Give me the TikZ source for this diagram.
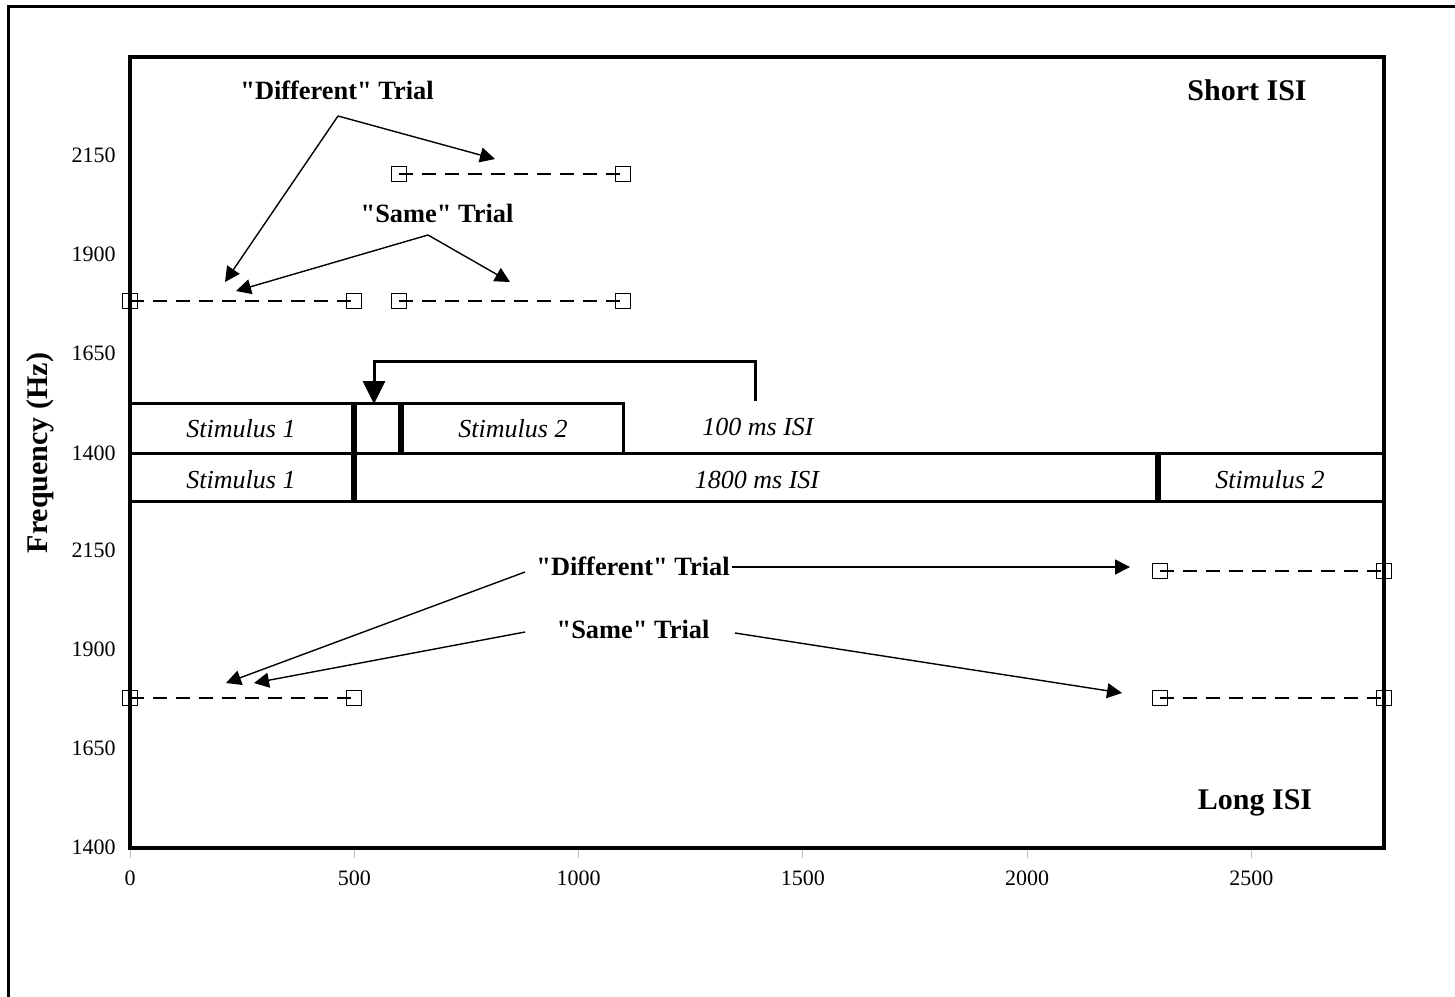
\documentclass[tikz,border=0pt]{standalone}
\usepackage{fontspec}
\setmainfont{Liberation Serif}
\usetikzlibrary{arrows.meta}

\begin{document}
\begin{tikzpicture}[x=0.5pt, y=-0.5pt,
	sq/.style={draw, line width=0.9pt, minimum size=7.5pt, inner sep=0pt},
	trial/.style={font=\fontsize{13.2}{15}\selectfont\bfseries},
	panel/.style={font=\fontsize{15}{17}\selectfont\bfseries},
	stim/.style={font=\fontsize{13}{15}\selectfont\itshape},
	tick/.style={font=\fontsize{11}{13}\selectfont},
	pointer/.style={line width=0.7pt, -{Triangle[length=7.5pt,width=7.5pt]}},
	dashline/.style={line width=0.8pt, dash pattern=on 7pt off 4.5pt}]

\useasboundingbox (0,0) rectangle (1455,996);
\clip (0,0) rectangle (1455,996);
\draw[line width=1.5pt] (8.5,6.5) rectangle (1480,1020);

% Ejes
\draw[line width=2pt] (130,57) rectangle (1384,848);

	\foreach \t [count=\i from 0] in {0, 500, ..., 2500}
		\draw[gray!50, line width=0.5pt] ({130+0.4485*\t},850) -- ({130+0.4485*\t},858)
			node[tick, text=black, anchor=north, inner sep=0pt, yshift=-6pt] (xl\i) {\t};

	\foreach \f [count=\i from 0] in {2150, 1900, 1650, 1400}
		\node[tick, anchor=east, inner sep=0pt] (yt\i) at (116,{155+99.3*\i}) {\f};

	\foreach \f [count=\i from 0] in {2150, 1900, 1650, 1400}
		\node[tick, anchor=east, inner sep=0pt] (yb\i) at (116,{550+99*\i}) {\f};

\node[panel, rotate=90] (ytitle) at (40,453) {Frequency (Hz)};
\node[panel] (short) at (1247,90) {Short ISI};
\node[panel] (long) at (1255,803) {Long ISI};

% Estimulos
\draw[line width=1.5pt] (130,403) -- (623,403) -- (623,453);
\draw[line width=1.5pt] (130,453) -- (1384,453);
\draw[line width=1.5pt] (130,501) -- (1384,501);
\draw[line width=3pt] (354,403) -- (354,501);
\draw[line width=3pt] (401,403) -- (401,453);
\draw[line width=3pt] (1158,453) -- (1158,501);

\node[stim] (s1top) at (241,429) {Stimulus 1};
\node[stim] (s2top) at (513,429) {Stimulus 2};
\node[stim] (isishort) at (758,427) {100 ms ISI};
\node[stim] (s1bot) at (241,480) {Stimulus 1};
\node[stim] (isilong) at (757,480) {1800 ms ISI};
\node[stim] (s2bot) at (1270,480) {Stimulus 2};

\coordinate (brA) at (755,401);
\coordinate (brB) at (374,404);
\draw[line width=1.5pt, -{Triangle[length=11.5pt,width=11pt]}] (brA) -- ++(0,-40) -| (brB);

% Ensayos ISI corto
\node[sq] (d1) at (399,174) {};
\node[sq] (d2) at (623,174) {};
\node[sq] (a1) at (130,301) {};
\node[sq] (a2) at (354,301) {};
\node[sq] (a3) at (399,301) {};
\node[sq] (a4) at (623,301) {};
\draw[dashline] (d1.center) -- (d2.center);
\draw[dashline] (a1.center) -- (a2.center);
\draw[dashline] (a3.center) -- (a4.center);

\node[trial] (difT) at (337,90) {\textquotedbl Different\textquotedbl{} Trial};
\node[trial] (samT) at (437,213) {\textquotedbl Same\textquotedbl{} Trial};
\coordinate (difA) at (338,116);
\coordinate (difR) at (495,159);
\coordinate (difL) at (225,282);
\coordinate (samA) at (428,235);
\coordinate (samL) at (236,291);
\coordinate (samR) at (510,282);
\draw[pointer] (difA) -- (difR);
\draw[pointer] (difA) -- (difL);
\draw[pointer] (samA) -- (samL);
\draw[pointer] (samA) -- (samR);

% Ensayos ISI largo
\node[sq] (e1) at (1160,571) {};
\node[sq] (e2) at (1384,571) {};
\node[sq] (b1) at (130,698) {};
\node[sq] (b2) at (354,698) {};
\node[sq] (b3) at (1160,698) {};
\node[sq] (b4) at (1384,698) {};
\draw[dashline] (e1.center) -- (e2.center);
\draw[dashline] (b1.center) -- (b2.center);
\draw[dashline] (b3.center) -- (b4.center);

\node[trial] (difB) at (633,566) {\textquotedbl Different\textquotedbl{} Trial};
\node[trial] (samB) at (633,629) {\textquotedbl Same\textquotedbl{} Trial};
\coordinate (dbL0) at (525,572);
\coordinate (dbL) at (226,683);
\coordinate (dbR0) at (732,567);
\coordinate (dbR) at (1130,567);
\coordinate (sbL0) at (525,632);
\coordinate (sbL) at (254,683);
\coordinate (sbR0) at (735,633);
\coordinate (sbR) at (1122,693);
\draw[pointer] (dbL0) -- (dbL);
\draw[pointer] (dbR0) -- (dbR);
\draw[pointer] (sbL0) -- (sbL);
\draw[pointer] (sbR0) -- (sbR);
\end{tikzpicture}
\end{document}
